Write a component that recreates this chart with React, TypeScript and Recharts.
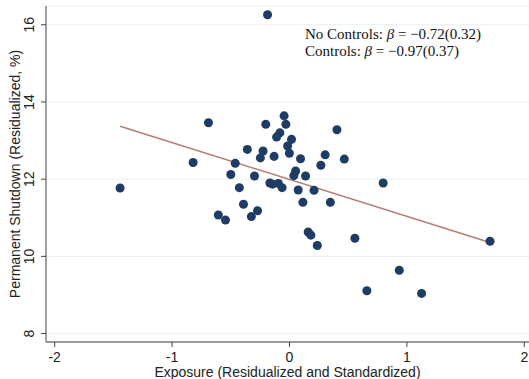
import { CartesianGrid, ReferenceLine, Scatter, ScatterChart, XAxis, YAxis, ZAxis } from 'recharts';

const exposure = [
  -1.443, -0.821, -0.69, -0.606, -0.545, -0.5, -0.462, -0.427, -0.392, -0.359,
  -0.325, -0.298, -0.272, -0.248, -0.225, -0.202, -0.187, -0.167, -0.144, -0.131,
  -0.11, -0.095, -0.082, -0.063, -0.046, -0.031, -0.016, -0.001, 0.017, 0.037,
  0.052, 0.074, 0.094, 0.114, 0.137, 0.159, 0.182, 0.209, 0.237, 0.267,
  0.304, 0.348, 0.404, 0.467, 0.557, 0.659, 0.798, 0.935, 1.125, 1.708,
];
const shutdown = [
  11.77, 12.43, 13.46, 11.07, 10.94, 12.12, 12.41, 11.78, 11.35, 12.77,
  11.03, 12.08, 11.18, 12.55, 12.73, 13.42, 16.26, 11.9, 11.87, 12.59,
  13.09, 11.89, 13.2, 11.78, 13.64, 13.42, 12.86, 12.67, 13.03, 12.09,
  12.21, 11.72, 12.53, 11.4, 12.08, 10.63, 10.55, 11.71, 10.28, 12.36,
  12.63, 11.4, 13.28, 12.52, 10.47, 9.11, 11.9, 9.64, 9.04, 10.39,
];
const fitX = [-1.443, 1.708];
const fitY = [13.37, 10.36];
const xTicks = [-2, -1, 0, 1, 2];
const yTicks = [8, 10, 12, 14, 16];

const points = exposure.map((x, i) => ({ x, y: shutdown[i] }));

const AXIS = '#444';
const DOT = '#1f3d64';
const FIT = '#b87a74';
const FONT = 'Liberation Sans, Arial, sans-serif';

function YTick(props: any) {
  const { x, y, payload } = props;
  return (
    <text
      x={x}
      y={y}
      transform={`rotate(-90, ${x}, ${y})`}
      textAnchor="middle"
      dominantBaseline="central"
      fontSize={14}
      fontFamily={FONT}
      fill="#222"
    >
      {payload.value}
    </text>
  );
}

export default function App() {
  return (
    <div style={{ position: 'absolute', left: 0, top: 0, width: 529, height: 379, background: '#fff' }}>
      <ScatterChart width={529} height={379} margin={{ top: 6, right: 0, left: 0, bottom: 0 }}>
        <CartesianGrid vertical={false} stroke="#e9f0f0" />
        <XAxis
          type="number"
          dataKey="x"
          domain={[-2.074, 2.04]}
          ticks={xTicks}
          allowDataOverflow
          height={37}
          stroke={AXIS}
          tickSize={5}
          tickMargin={5}
          tick={{ fontSize: 14, fill: '#222', fontFamily: FONT }}
          label={{ value: 'Exposure (Residualized and Standardized)', position: 'insideBottom', offset: 2, fontSize: 14, fill: '#222', fontFamily: FONT }}
        />
        <YAxis
          type="number"
          dataKey="y"
          domain={[7.782, 16.485]}
          ticks={yTicks}
          allowDataOverflow
          width={46}
          stroke={AXIS}
          tickSize={5}
          tickMargin={12}
          tick={<YTick />}
          label={{ value: 'Permanent Shutdown (Residualized, %)', angle: -90, position: 'insideLeft', offset: 15, fontSize: 14, fill: '#222', fontFamily: FONT, style: { textAnchor: 'middle' } }}
        />
        <ZAxis range={[58, 58]} />
        <ReferenceLine
          segment={[{ x: fitX[0], y: fitY[0] }, { x: fitX[1], y: fitY[1] }]}
          stroke={FIT}
          strokeWidth={1.5}
          ifOverflow="visible"
        />
        <Scatter data={points} fill={DOT} isAnimationActive={false} />
      </ScatterChart>
      <div
        style={{
          position: 'absolute',
          left: 305,
          top: 26,
          fontFamily: 'Liberation Serif, Times New Roman, serif',
          fontSize: 15,
          lineHeight: '17.3px',
          color: '#111',
          whiteSpace: 'nowrap',
        }}
      >
        <div>No Controls: <i>β</i> = −0.72(0.32)</div>
        <div>Controls: <i>β</i> = −0.97(0.37)</div>
      </div>
    </div>
  );
}
